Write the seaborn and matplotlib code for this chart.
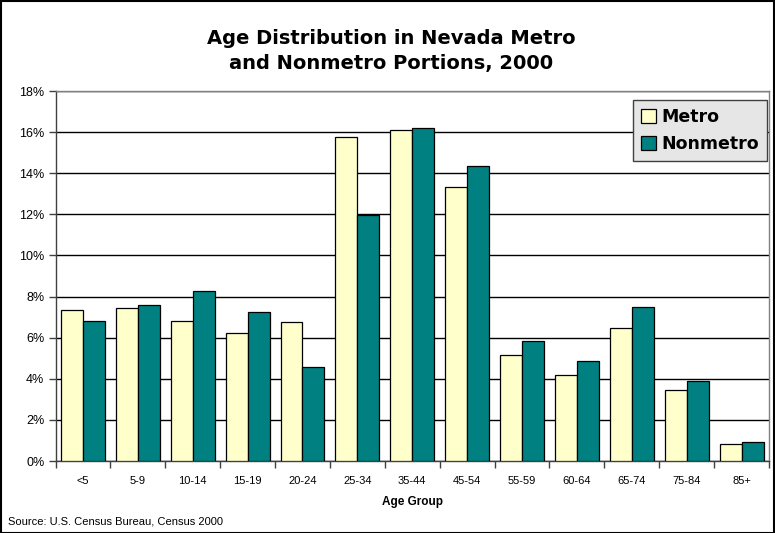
import matplotlib
matplotlib.use("Agg")
import matplotlib.pyplot as plt
import seaborn as sns
import pandas as pd
import numpy as np
from matplotlib.ticker import FixedLocator, PercentFormatter
from matplotlib import font_manager

age_groups = ["<5", "5-9", "10-14", "15-19", "20-24", "25-34", "35-44",
              "45-54", "55-59", "60-64", "65-74", "75-84", "85+"]
metro = [7.35, 7.45, 6.80, 6.23, 6.74, 15.76, 16.08, 13.34, 5.16, 4.19, 6.48, 3.46, 0.84]
nonmetro = [6.80, 7.61, 8.25, 7.27, 4.59, 11.95, 16.18, 14.33, 5.86, 4.85, 7.47, 3.90, 0.94]
series_names = ["Metro", "Nonmetro"]
y_ticks = [0, 2, 4, 6, 8, 10, 12, 14, 16, 18]

df = pd.DataFrame({
    "Age Group": age_groups * 2,
    "value": metro + nonmetro,
    "series": [series_names[0]] * len(age_groups) + [series_names[1]] * len(age_groups),
})

sns.set_style("white")
plt.rcParams["font.family"] = ["DejaVu Sans"]
plt.rcParams["text.color"] = "black"
plt.rcParams["axes.labelcolor"] = "black"
plt.rcParams["xtick.color"] = "black"
plt.rcParams["ytick.color"] = "black"

installed = {f.name for f in font_manager.fontManager.ttflist}
narrow = "Liberation Sans Narrow" if "Liberation Sans Narrow" in installed else "Liberation Sans"
narrow_size = 9 if narrow == "Liberation Sans Narrow" else 8

fig = plt.figure(figsize=(7.75, 5.33), dpi=100)
ax = fig.add_axes([55.5 / 775, 1 - 461 / 533, (769 - 55.5) / 775, (461 - 91) / 533])

sns.barplot(data=df, x="Age Group", y="value", hue="series", order=age_groups,
            hue_order=series_names, palette=["#FFFFCC", "#008080"],
            edgecolor="black", linewidth=0.9, width=0.8, saturation=1, ax=ax, zorder=3)

ax.set_ylim(0, 18)
ax.set_xlim(-0.5, len(age_groups) - 0.5)
ax.set_yticks(y_ticks)
ax.yaxis.set_major_formatter(PercentFormatter(decimals=0))
ax.grid(axis="y", color="black", linewidth=1, zorder=0)
ax.set_axisbelow(True)

for s in ["top", "right"]:
    ax.spines[s].set_visible(True)
    ax.spines[s].set_color("#808080")
    ax.spines[s].set_linewidth(1)
for s in ["left", "bottom"]:
    ax.spines[s].set_color("#404040")
    ax.spines[s].set_linewidth(1)

ax.tick_params(axis="y", which="major", direction="out", length=5, width=1,
               color="#404040", labelcolor="black", labelsize=9, pad=3, left=True)
ax.tick_params(axis="x", which="major", length=0, labelsize=narrow_size, pad=11,
               labelcolor="black")
ax.xaxis.set_minor_locator(FixedLocator(np.arange(-0.5, len(age_groups), 1.0)))
ax.tick_params(axis="x", which="minor", direction="out", length=5, width=1,
               color="#404040", bottom=True)
for lab in ax.get_xticklabels():
    lab.set_fontfamily(narrow)
for lab in ax.get_yticklabels():
    lab.set_fontfamily("Liberation Sans")

ax.set_xlabel("Age Group", fontsize=narrow_size + 0.5, fontweight="bold", labelpad=7,
              fontfamily=narrow, color="black")
ax.set_ylabel("")

leg = ax.legend(loc="upper right", bbox_to_anchor=(766.5 / 775, 1 - 100 / 533),
                bbox_transform=fig.transFigure, frameon=True, fancybox=False,
                prop={"weight": "bold", "size": 12.5}, handlelength=0.85,
                handleheight=0.85, handletextpad=0.3, borderpad=0.45,
                labelspacing=0.55, borderaxespad=0)
leg.get_frame().set_facecolor("#E6E6E6")
leg.get_frame().set_edgecolor("#404040")
leg.get_frame().set_linewidth(1)
leg.get_frame().set_alpha(1)
leg.set_zorder(10)
for t in leg.get_texts():
    t.set_color("black")

fig.text(391 / 775, 1 - 51 / 533, "Age Distribution in Nevada Metro\nand Nonmetro Portions, 2000",
         ha="center", va="center", fontsize=14, fontweight="bold", linespacing=1.4,
         color="black")
fig.text(8 / 775, 1 - 521 / 533, "Source: U.S. Census Bureau, Census 2000",
         ha="left", va="center", fontsize=narrow_size, fontfamily=narrow, color="black")

border = plt.Rectangle((0.5 / 775, 0.5 / 533), 773.5 / 775, 531.5 / 533, transform=fig.transFigure,
                       fill=False, edgecolor="black", linewidth=1.5)
fig.patches.append(border)

fig.savefig("out.png", dpi=100, facecolor="white")
